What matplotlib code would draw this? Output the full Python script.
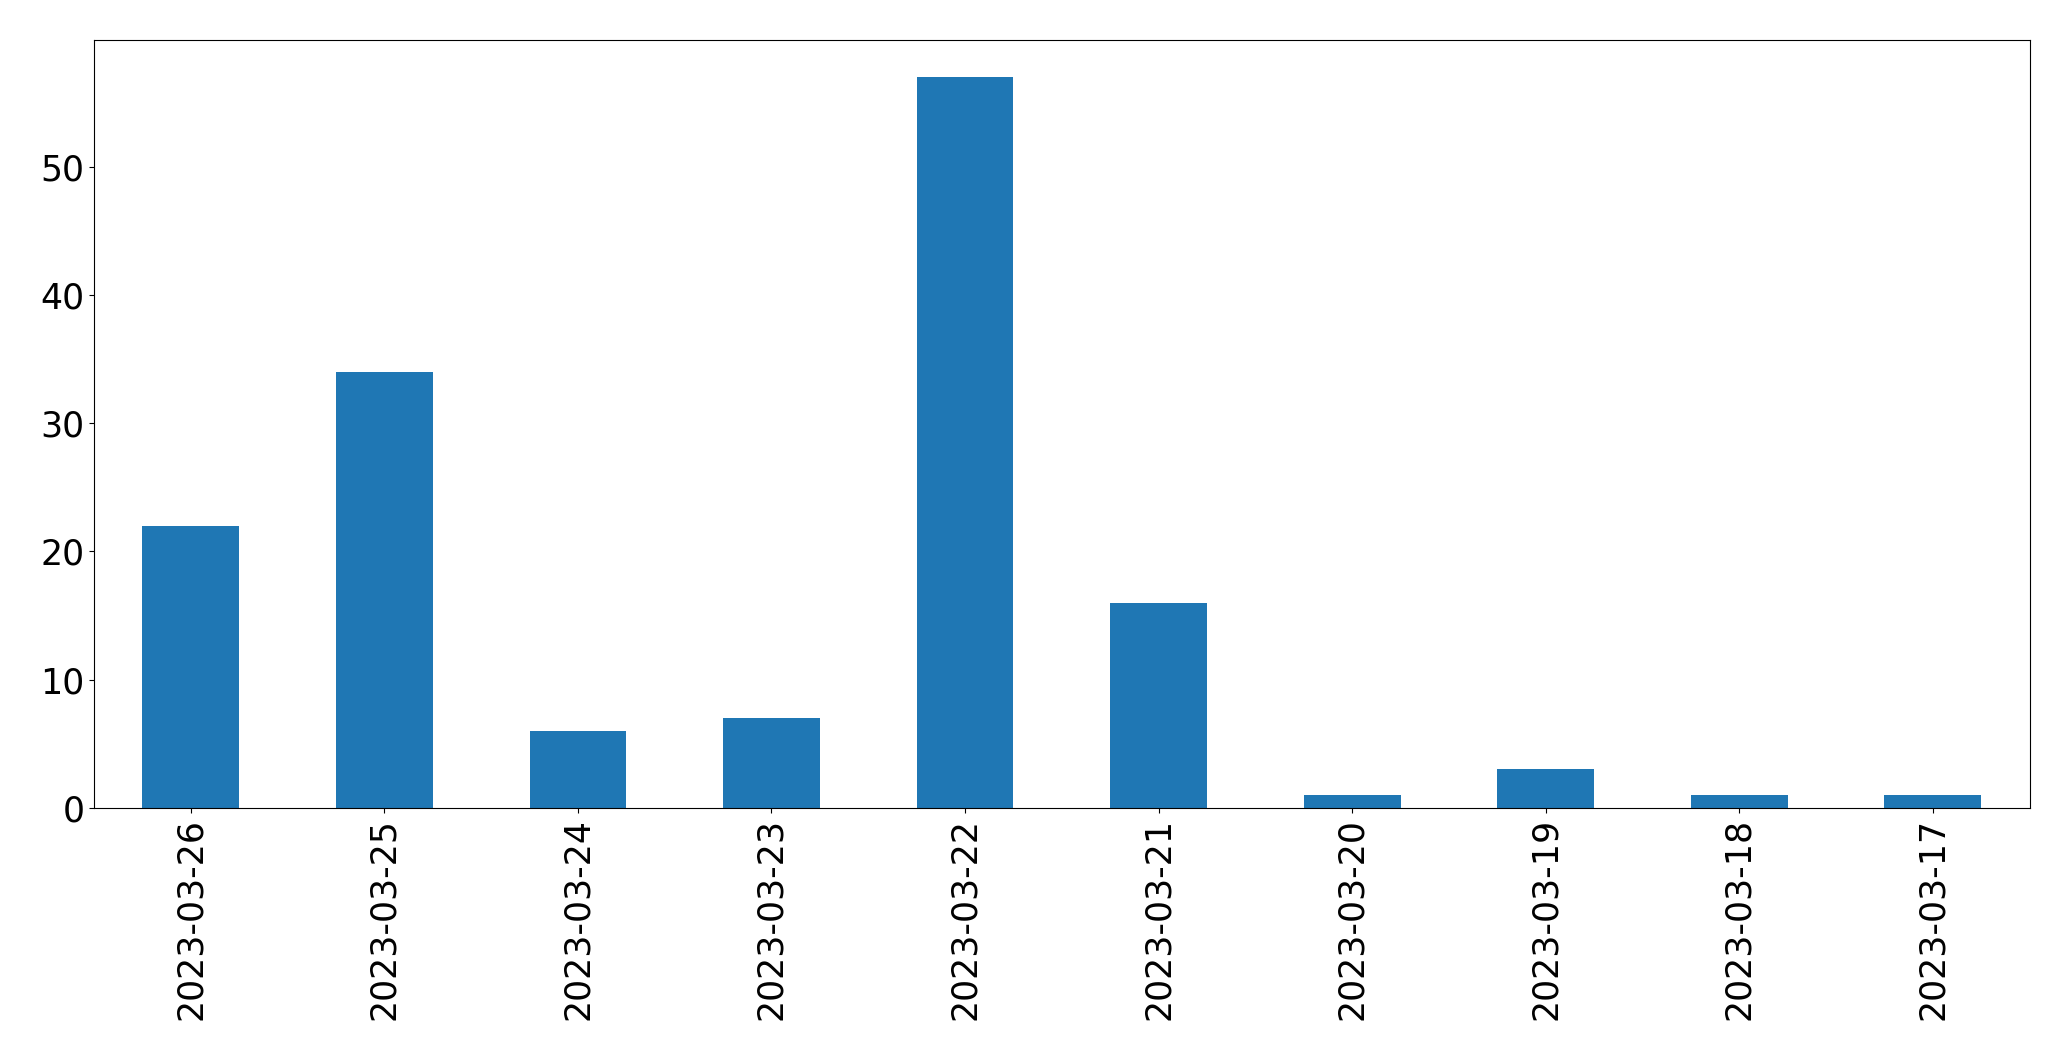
import pandas as pd
import matplotlib
matplotlib.use("Agg")
import matplotlib.pyplot as plt

dates = ["2023-03-26", "2023-03-25", "2023-03-24", "2023-03-23", "2023-03-22",
         "2023-03-21", "2023-03-20", "2023-03-19", "2023-03-18", "2023-03-17"]
counts = [22, 34, 6, 7, 57, 16, 1, 3, 1, 1]

s = pd.Series(counts, index=dates)

fig, ax = plt.subplots(figsize=(20.71, 10.61), dpi=100)
s.plot(kind="bar", ax=ax, color="#1f77b4")
ax.tick_params(axis="both", labelsize=25)
fig.subplots_adjust(left=0.0454, right=0.980, top=0.962, bottom=0.2385)
fig.savefig("out.png", dpi=100)
